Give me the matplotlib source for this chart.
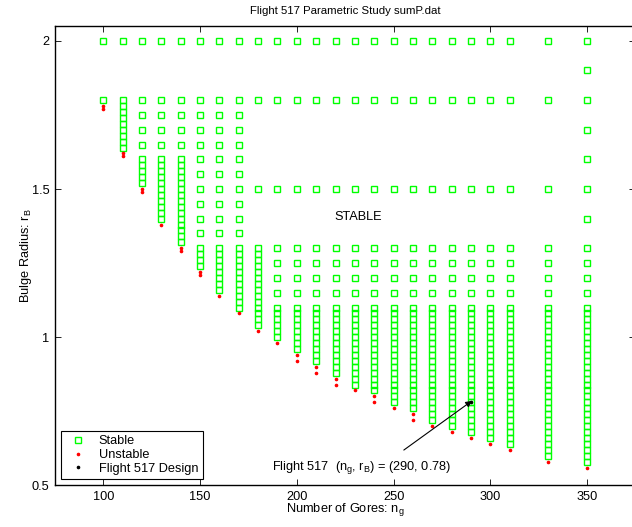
import numpy as np
import matplotlib
matplotlib.use('Agg')
import matplotlib.pyplot as plt
from matplotlib.lines import Line2D

plt.rcParams['font.family'] = ['Liberation Sans', 'DejaVu Sans']
plt.rcParams['mathtext.fontset'] = 'custom'
plt.rcParams['mathtext.rm'] = 'Liberation Sans'
plt.rcParams['mathtext.it'] = 'Liberation Sans:italic'
plt.rcParams['font.size'] = 9.2

# number of gores for every tested column
gores = [100, 110, 120, 130, 140, 150, 160, 170, 180, 190, 200, 210,
         220, 230, 240, 250, 260, 270, 280, 290, 300, 310, 330, 350]

# isolated stable bulge radii tested in each column
coarse_a = [2.0, 1.8, 1.75, 1.7, 1.65]
coarse_b = [2.0, 1.8, 1.75, 1.7, 1.65, 1.6, 1.55, 1.5, 1.45, 1.4, 1.35]
coarse_c = [2.0, 1.8, 1.5, 1.3, 1.25, 1.2, 1.15]
sparse_stable = [
    [2.0, 1.8],          # 100
    [2.0],               # 110
    coarse_a,            # 120
    coarse_a,            # 130
    coarse_a,            # 140
    coarse_b,            # 150
    coarse_b,            # 160
    coarse_b,            # 170
    [2.0, 1.8, 1.5],     # 180
] + [coarse_c] * 13 + [
    coarse_c,            # 330
    [2.0, 1.9, 1.8, 1.7, 1.6, 1.5, 1.4, 1.3, 1.25, 1.2, 1.15],  # 350
]

# fine search (0.02 spacing) in each column: top and bottom stable radius
fine_top = [None, 1.80, 1.60, 1.60, 1.60, 1.30, 1.30, 1.30, 1.30, 1.10, 1.10, 1.10,
            1.10, 1.10, 1.10, 1.10, 1.10, 1.10, 1.10, 1.10, 1.10, 1.10, 1.10, 1.10]
fine_bottom = [None, 1.64, 1.52, 1.40, 1.32, 1.24, 1.16, 1.10, 1.04, 1.00, 0.96, 0.92,
               0.88, 0.84, 0.82, 0.78, 0.76, 0.72, 0.70, 0.68, 0.66, 0.64, 0.60, 0.58]
fine_step = 0.02

# unstable radii found just below the boundary
unstable = [
    [1.78, 1.77], [1.62, 1.61], [1.50, 1.49], [1.38], [1.30, 1.29], [1.22, 1.21],
    [1.14], [1.08], [1.02], [0.98], [0.94, 0.92], [0.90, 0.88],
    [0.86, 0.84], [0.82], [0.80, 0.78], [0.76], [0.74, 0.72], [0.70],
    [0.68], [0.66], [0.64], [0.62], [0.58], [0.56],
]

design_ng = 290
design_rb = 0.78

# flatten to point lists
st_x, st_y, un_x, un_y = [], [], [], []
for i, g in enumerate(gores):
    vals = list(sparse_stable[i])
    if fine_top[i] is not None:
        n = int(round((fine_top[i] - fine_bottom[i]) / fine_step)) + 1
        vals += [round(fine_top[i] - k * fine_step, 2) for k in range(n)]
    st_x += [g] * len(vals)
    st_y += vals
    un_x += [g] * len(unstable[i])
    un_y += unstable[i]

fig = plt.figure(figsize=(6.32, 5.27), dpi=100)
ax = fig.add_axes([0.087, 0.0791, 0.9184, 0.8715])

green = (0, 1, 0)
ax.plot(st_x, st_y, 's', mfc='none', mec=green, ms=4.2, mew=1.0, linestyle='none',
        antialiased=False)
ax.plot(un_x, un_y, '.', color='r', ms=3.2, linestyle='none')
ax.plot([design_ng], [design_rb], '.', color='k', ms=3.2, linestyle='none')

ax.set_xlim(75, 375)
ax.set_ylim(0.5, 2.05)
ax.set_xticks([100, 150, 200, 250, 300, 350])
ax.set_yticks([0.5, 1, 1.5, 2])
ax.set_yticklabels(['0.5', '1', '1.5', '2'])
ax.tick_params(direction='in', top=True, right=True, length=4, width=0.6, pad=4)
for s in ax.spines.values():
    s.set_linewidth(1.0)

ax.set_title('Flight 517 Parametric Study sumP.dat', fontsize=8.2, pad=9)
ax.set_xlabel(r'Number of Gores: n$_{\mathrm{g}}$', labelpad=-1)
ax.set_ylabel(r'Bulge Radius: r$_{\mathrm{B}}$', labelpad=-1.5)

ax.text(231.5, 1.404, 'STABLE', ha='center', va='center')
ax.text(187, 0.552, r'Flight 517  (n$_{\mathrm{g}}$, r$_{\mathrm{B}}$) = (290, 0.78)',
        ha='left', va='baseline')
ax.annotate('', xy=(design_ng + 0.5, design_rb + 0.005), xytext=(255.3, 0.619),
            arrowprops=dict(arrowstyle='-|>', color='k', lw=0.8, mutation_scale=9,
                            shrinkA=0, shrinkB=0))

handles = [
    Line2D([], [], marker='s', mfc='none', mec=green, ms=4.2, mew=1.0, linestyle='none'),
    Line2D([], [], marker='.', color='r', ms=3.2, linestyle='none'),
    Line2D([], [], marker='.', color='k', ms=3.2, linestyle='none'),
]
leg = ax.legend(handles, ['Stable', 'Unstable', 'Flight 517 Design'],
                loc='lower left', bbox_to_anchor=(0.0103, 0.0137), borderaxespad=0,
                fancybox=False, framealpha=1, edgecolor='k',
                handlelength=2.0, handletextpad=0.6, labelspacing=0.12,
                borderpad=0.35)
leg.get_frame().set_linewidth(0.8)

fig.savefig('out.png', dpi=100)
